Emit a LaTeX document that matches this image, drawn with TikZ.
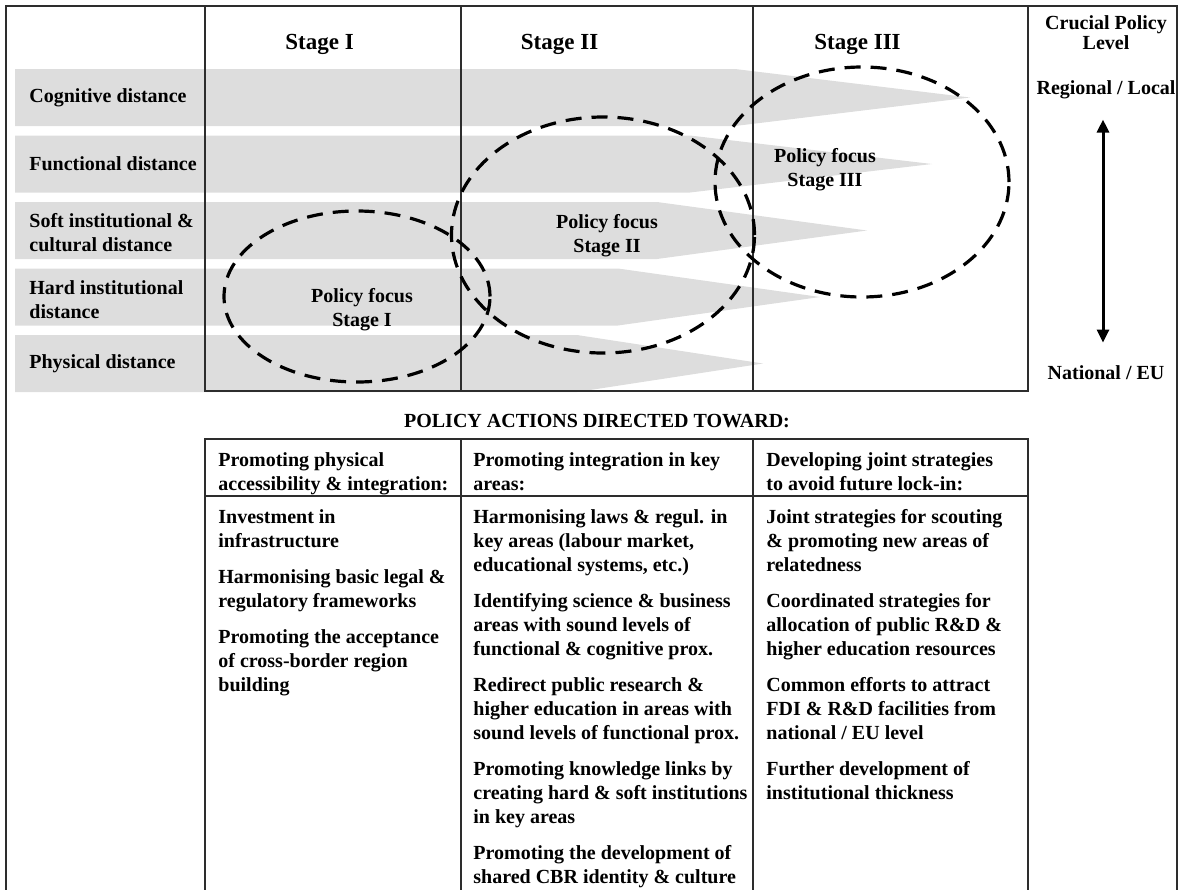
\documentclass[tikz,border=0pt]{standalone}
\usepackage{fontspec}
\setmainfont{Liberation Serif}
\usetikzlibrary{arrows.meta}

\definecolor{bandgray}{RGB}{221,221,221}
\definecolor{linegray}{RGB}{45,45,45}

\tikzset{
  tableline/.style={draw=linegray, line width=0.6pt},
  band/.style={fill=bandgray},
  focusring/.style={draw=black, line width=1.6pt, dash pattern=on 8pt off 5pt},
  rowtext/.style={font=\fontsize{10}{12}\selectfont\bfseries, align=left, anchor=west, inner sep=0pt},
  stagehead/.style={font=\fontsize{11.5}{14}\selectfont\bfseries, anchor=west, inner sep=0pt},
  focustext/.style={font=\fontsize{10}{12}\selectfont\bfseries, align=center, inner sep=0pt},
  leveltext/.style={font=\fontsize{10}{9}\selectfont\bfseries, align=center, inner sep=0pt},
  celltext/.style={font=\fontsize{10}{12}\selectfont\bfseries, align=left, anchor=north west, inner sep=0pt},
  levelarrow/.style={line width=1.5pt, {Triangle[length=6.5pt,width=6pt]}-{Triangle[length=6.5pt,width=6pt]}}
}

\begin{document}
\begin{tikzpicture}[x=0.5pt,y=-0.5pt]
\useasboundingbox (0,0) rectangle (1180,890);
\clip (0,0) rectangle (1180,890);

% Distance bands
\foreach \ytop/\xtaper/\xtip in {69/735/970, 135.5/690/932, 202/657/867, 268.5/618/820, 335/577/763}
  \fill[band] (15,\ytop) -- (\xtaper,\ytop) -- (\xtip,\ytop+28.5) -- (\xtaper,\ytop+57) -- (15,\ytop+57) -- cycle;

% Frame and stage table
\draw[tableline] (6,6) rectangle (1177,900);
\draw[tableline] (205,6) rectangle (1028,391);
\draw[tableline] (461,6) -- (461,391) (753,6) -- (753,391);

\node[stagehead] (stageone) at (285,44) {Stage I};
\node[stagehead] (stagetwo) at (520.5,44) {Stage II};
\node[stagehead] (stagethree) at (814,44) {Stage III};

\node[rowtext] (cognitive) at (29,97.5) {Cognitive distance};
\node[rowtext] (functional) at (29,164) {Functional distance};
\node[rowtext] (soft) at (29,233) {Soft institutional \&\\cultural distance};
\node[rowtext] (hard) at (29,299.5) {Hard institutional\\distance};
\node[rowtext] (physical) at (29,363.5) {Physical distance};

% Policy focus rings
\draw[focusring] (357,296.5) ellipse [x radius=66.5pt, y radius=42.75pt];
\draw[focusring] (603,235) ellipse [x radius=75.75pt, y radius=59pt];
\draw[focusring] (862,182) ellipse [x radius=73.5pt, y radius=57.5pt];

\node[focustext] (focusone) at (362,310) {Policy focus\\Stage I};
\node[focustext] (focustwo) at (607,235.5) {Policy focus\\Stage II};
\node[focustext] (focusthree) at (825,169.5) {Policy focus\\Stage III};

% Policy level
\node[leveltext] (crucial) at (1106,32.5) {Crucial Policy\\Level};
\node[leveltext] (regional) at (1106,90) {Regional / Local};
\node[leveltext] (national) at (1106,373) {National / EU};
\draw[levelarrow, shorten <=10pt, shorten >=11.5pt]
  ([xshift=-1.5pt]regional.south) -- ([xshift=-1.5pt]national.north);

% Policy actions table
\node[focustext] (actions) at (597,421) {POLICY ACTIONS DIRECTED TOWARD:};
\draw[tableline] (205,439) rectangle (1028,900);
\draw[tableline] (205,496) -- (1028,496) (461,439) -- (461,900) (753,439) -- (753,900);

\node[celltext] (headone) at (218,452) {Promoting physical\\accessibility \& integration:};
\node[celltext] (headtwo) at (473,452) {Promoting integration in key\\areas:};
\node[celltext] (headthree) at (766,452) {Developing joint strategies\\to avoid future lock-in:};

\node[celltext] (actionsone) at (218,509) {Investment in\\infrastructure\\[6pt]
  Harmonising basic legal \&\\regulatory frameworks\\[6pt]
  Promoting the acceptance\\of cross-border region\\building};
\node[celltext] (actionstwo) at (473,509) {Harmonising laws \& regul. in\\key areas (labour market,\\educational systems, etc.)\\[6pt]
  Identifying science \& business\\areas with sound levels of\\functional \& cognitive prox.\\[6pt]
  Redirect public research \&\\higher education in areas with\\sound levels of functional prox.\\[6pt]
  Promoting knowledge links by\\creating hard \& soft institutions\\in key areas\\[6pt]
  Promoting the development of\\shared CBR identity \& culture};
\node[celltext] (actionsthree) at (766,509) {Joint strategies for scouting\\\& promoting new areas of\\relatedness\\[6pt]
  Coordinated strategies for\\allocation of public R\&D \&\\higher education resources\\[6pt]
  Common efforts to attract\\FDI \& R\&D facilities from\\national / EU level\\[6pt]
  Further development of\\institutional thickness};
\end{tikzpicture}
\end{document}
